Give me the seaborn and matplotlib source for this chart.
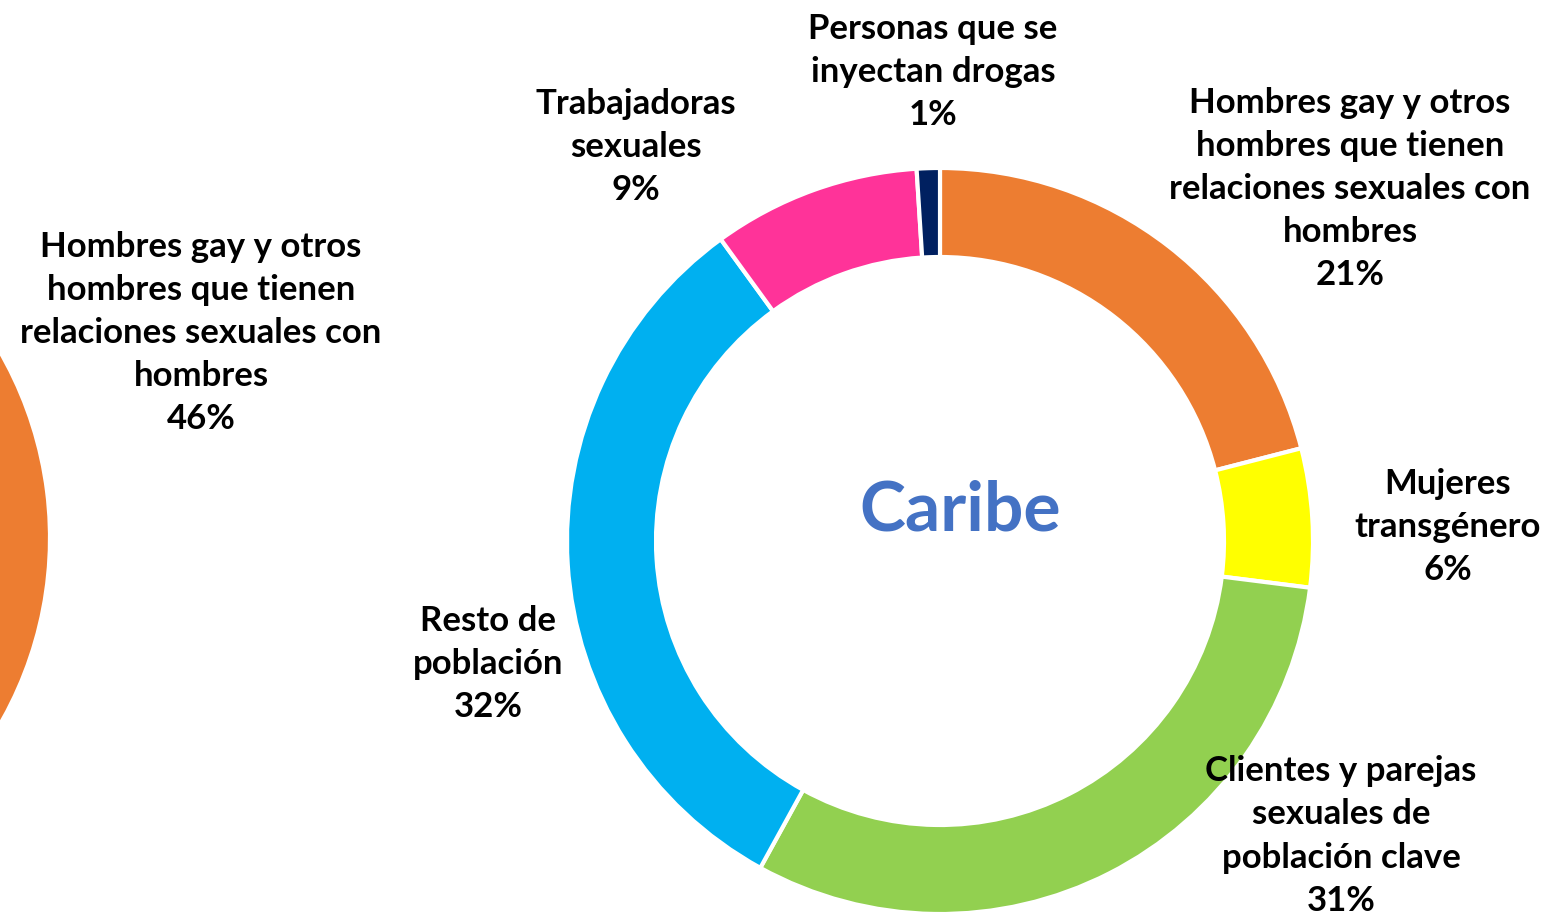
import matplotlib
matplotlib.use("Agg")
import matplotlib.pyplot as plt
import seaborn as sns

# Caribe donut data (clockwise from 12 o'clock)
categories = ["Hombres gay y otros\nhombres que tienen\nrelaciones sexuales con\nhombres",
              "Mujeres\ntransgénero",
              "Clientes y parejas\nsexuales de\npoblación clave",
              "Resto de\npoblación",
              "Trabajadoras\nsexuales",
              "Personas que se\ninyectan drogas"]
shares = [21, 6, 31, 32, 9, 1]
colors = ["#ED7D31", "#FFFF00", "#92D050", "#00B0F0", "#FF3399", "#002060"]

# neighbouring chart, only its first slice is visible
left_category = "Hombres gay y otros\nhombres que tienen\nrelaciones sexuales con\nhombres"
left_share = [46]

sns.set_theme(style="white")
plt.rcParams['font.family'] = ['Lato', 'DejaVu Sans']

W, H = 1568, 919
fig = plt.figure(figsize=(W / 100, H / 100), dpi=100)
ax = fig.add_axes([0, 0, 1, 1])

def py(y):
    # picture y (from top) -> axes y
    return H - y

R, ring = 373, 89
wp = dict(width=ring, edgecolor='white', linewidth=3)

ax.pie(shares, colors=colors, startangle=90, counterclock=False,
       center=(940, py(541)), radius=R, wedgeprops=wp, frame=True)

ax.pie([v / 100 for v in left_share], colors=[colors[0]], startangle=90,
       counterclock=False, normalize=False, center=(-323, py(538)),
       radius=R, wedgeprops=wp, frame=True)
ax.set_xlim(0, W)
ax.set_ylim(0, H)
ax.set_aspect('equal')
ax.axis('off')

label_pos = [(1350, 189), (1448, 527), (1341, 836), (488, 664), (636, 147), (933, 72)]
fs = 25
ls = 1.43
for cat, v, (x, y) in zip(categories, shares, label_pos):
    ax.text(x, py(y), f"{cat}\n{v}%", ha='center', va='center', fontsize=fs,
            fontweight='bold', color='black', linespacing=ls)

ax.text(201, py(333), f"{left_category}\n{left_share[0]}%", ha='center', va='center',
        fontsize=fs, fontweight='bold', color='black', linespacing=ls)

ax.text(960, py(511), "Caribe", ha='center', va='center', fontsize=50,
        fontweight='bold', color='#4472C4')

fig.savefig("out.png", dpi=100)
